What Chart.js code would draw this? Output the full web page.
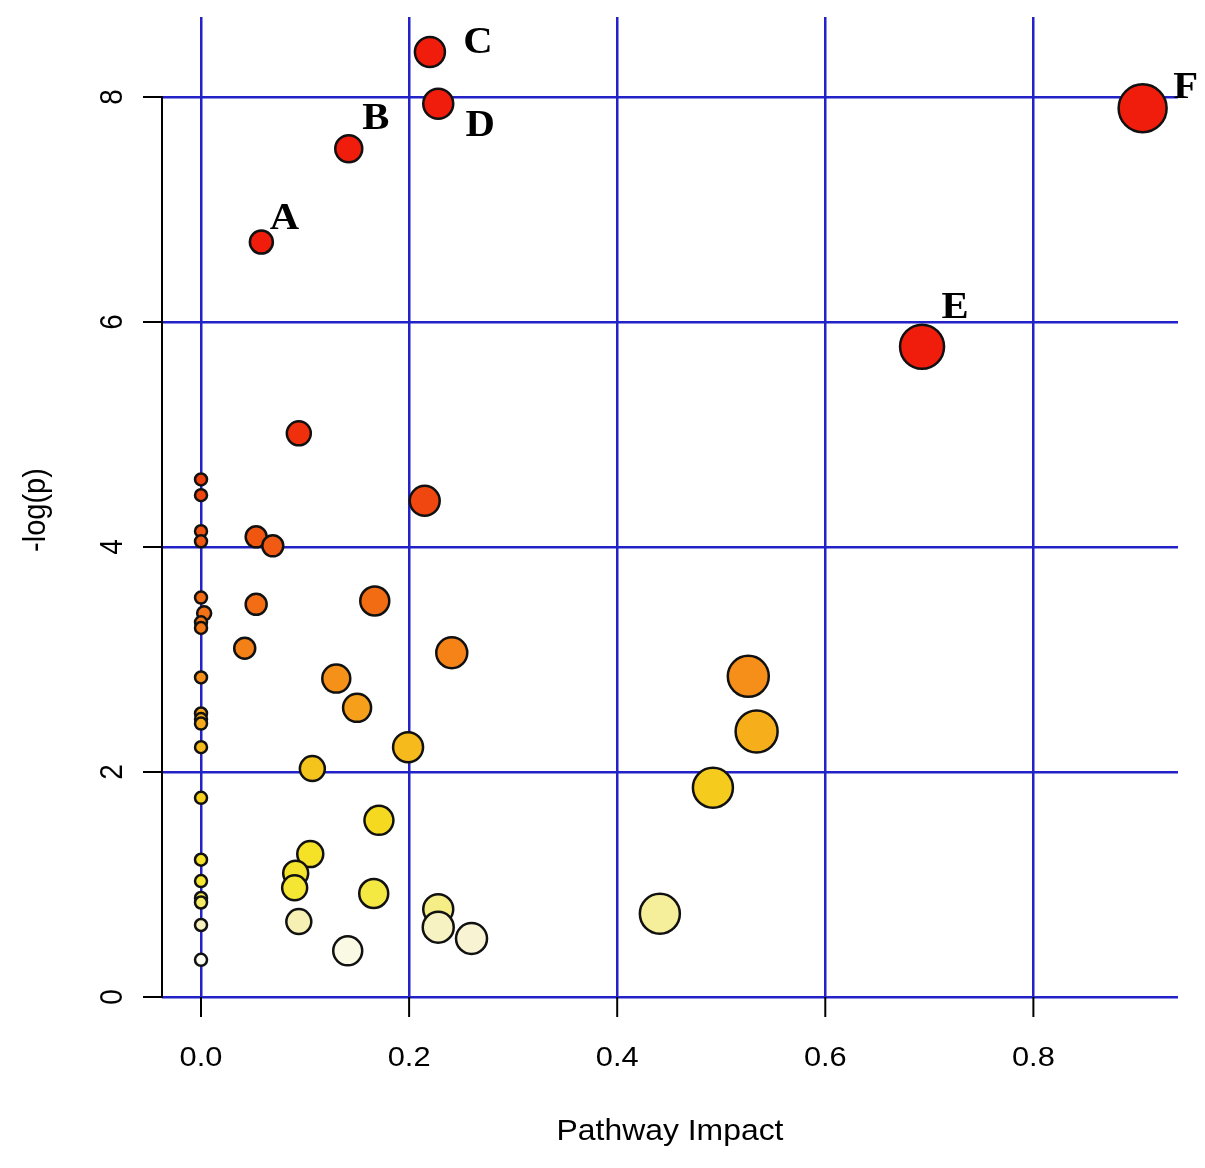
<!DOCTYPE html>
<html>
<head>
<meta charset="utf-8">
<script src="https://cdn.jsdelivr.net/npm/chart.js@4.4.0/dist/chart.umd.min.js"></script>
<style>
  html, body { margin: 0; padding: 0; background: #fff; }
  #wrap { width: 1205px; height: 1168px; }
</style>
</head>
<body>
<div id="wrap"><canvas id="impact" width="1205" height="1168"></canvas></div>
<script>
// pathway impact (x), -log(p) (y), bubble radius in px
const impact = [0.220, 0.228, 0.905, 0.142, 0.058, 0.693, 0.094, 0.000, 0.000, 0.215,
                0.000, 0.053, 0.000, 0.069, 0.000, 0.167, 0.053, 0.003, 0.000, 0.000,
                0.042, 0.241, 0.526, 0.000, 0.130, 0.150, 0.000, 0.000, 0.000, 0.534,
                0.199, 0.000, 0.107, 0.492, 0.000, 0.171, 0.105, 0.000, 0.091, 0.000,
                0.090, 0.166, 0.000, 0.000, 0.228, 0.441, 0.094, 0.000, 0.228, 0.260,
                0.141, 0.000];
const logP = [8.40, 7.94, 7.90, 7.54, 6.71, 5.78, 5.01, 4.60, 4.46, 4.41,
              4.14, 4.09, 4.05, 4.01, 3.55, 3.52, 3.49, 3.41, 3.33, 3.28,
              3.10, 3.06, 2.85, 2.84, 2.83, 2.57, 2.52, 2.47, 2.43, 2.36,
              2.22, 2.22, 2.03, 1.86, 1.77, 1.57, 1.27, 1.22, 1.10, 1.03,
              0.97, 0.92, 0.88, 0.84, 0.78, 0.74, 0.67, 0.64, 0.62, 0.52,
              0.41, 0.33];
const radius = [15, 15, 24, 13.5, 11.5, 22, 12, 6, 6, 15,
                6, 10.5, 6, 10.5, 6, 14.5, 10.5, 7, 6, 6,
                10.5, 15.5, 20.5, 6, 14, 14, 6, 6, 6, 21,
                15, 6, 12.5, 20, 6, 14.5, 13, 6, 12.5, 6,
                12.5, 14.5, 6, 6, 15, 20, 12.5, 6, 15.5, 15.5,
                14.5, 6];

// letter annotations and the point they belong to
const labelText = ['C', 'D', 'F', 'B', 'A', 'E'];
const labelPoint = [0, 1, 2, 3, 4, 5];

const xTicks = [0, 0.2, 0.4, 0.6, 0.8];
const xTickLabels = ['0.0', '0.2', '0.4', '0.6', '0.8'];
const yTicks = [0, 2, 4, 6, 8];
const yTickLabels = ['0', '2', '4', '6', '8'];

// styling
const labelOffset = [[48, 1], [42, 32], [43, -10], [27, -20], [23, -13], [33, -29]];
const heatStops = [
  [0.30, [253, 253, 244]], [0.50, [248, 245, 214]], [0.65, [246, 241, 188]],
  [0.75, [245, 238, 150]], [0.85, [244, 235, 98]], [0.95, [244, 230, 52]],
  [1.30, [245, 224, 36]], [1.60, [245, 216, 32]], [1.90, [245, 202, 28]],
  [2.20, [246, 187, 28]], [2.60, [245, 157, 26]], [3.00, [245, 134, 24]],
  [3.50, [242, 109, 20]], [4.00, [241, 90, 18]], [4.40, [240, 70, 15]],
  [5.00, [240, 48, 13]], [5.80, [240, 28, 12]]
];
const gridBlue = '#2222c8';
const sans = '"Liberation Sans", Arial, sans-serif';

function heatColor(v) {
  if (v <= heatStops[0][0]) return 'rgb(' + heatStops[0][1].join(',') + ')';
  for (let i = 1; i < heatStops.length; i++) {
    if (v <= heatStops[i][0]) {
      const [v0, c0] = heatStops[i - 1], [v1, c1] = heatStops[i];
      const t = (v - v0) / (v1 - v0);
      return 'rgb(' + c0.map((c, k) => Math.round(c + (c1[k] - c) * t)).join(',') + ')';
    }
  }
  return 'rgb(' + heatStops[heatStops.length - 1][1].join(',') + ')';
}

// the picture is a little wider than tall, so text gets a horizontal stretch
function stretchText(ctx, text, px, py, rotated) {
  ctx.save();
  ctx.translate(px, py);
  ctx.scale(1.1, 1);
  if (rotated) ctx.rotate(-Math.PI / 2);
  ctx.fillText(text, 0, 0);
  ctx.restore();
}

const rAxes = {
  id: 'rAxes',
  afterDraw(chart) {
    const { ctx, chartArea: a, scales: { x, y } } = chart;
    ctx.save();
    ctx.strokeStyle = '#000';
    ctx.fillStyle = '#000';
    ctx.lineWidth = 2;

    // left axis spans the tick range only
    ctx.beginPath();
    ctx.moveTo(a.left, y.getPixelForValue(yTicks[0]) + 1);
    ctx.lineTo(a.left, y.getPixelForValue(yTicks[yTicks.length - 1]) - 1);
    ctx.stroke();

    ctx.font = '28px ' + sans;
    ctx.textAlign = 'center';
    ctx.textBaseline = 'alphabetic';
    yTicks.forEach((v, i) => {
      const py = y.getPixelForValue(v);
      ctx.beginPath();
      ctx.moveTo(a.left - 19, py);
      ctx.lineTo(a.left, py);
      ctx.stroke();
      stretchText(ctx, yTickLabels[i], a.left - 40, py, true);
    });
    xTicks.forEach((v, i) => {
      const px = x.getPixelForValue(v);
      ctx.beginPath();
      ctx.moveTo(px, a.bottom);
      ctx.lineTo(px, a.bottom + 20);
      ctx.stroke();
      stretchText(ctx, xTickLabels[i], px, a.bottom + 69);
    });

    ctx.font = '29px ' + sans;
    stretchText(ctx, 'Pathway Impact', (a.left + a.right) / 2, a.bottom + 143);
    stretchText(ctx, '-log(p)', 45, (a.top + a.bottom) / 2 + 3, true);
    ctx.restore();
  },
  afterDatasetsDraw(chart) {
    const { ctx } = chart;
    const pts = chart.getDatasetMeta(0).data;
    ctx.save();
    ctx.fillStyle = '#000';
    ctx.font = 'bold 37px "Liberation Serif", "Times New Roman", serif';
    ctx.textAlign = 'center';
    ctx.textBaseline = 'alphabetic';
    labelText.forEach((t, i) => {
      const p = pts[labelPoint[i]];
      stretchText(ctx, t, p.x + labelOffset[i][0], p.y + labelOffset[i][1]);
    });
    ctx.restore();
  }
};

new Chart(document.getElementById('impact'), {
  type: 'bubble',
  data: {
    datasets: [{
      data: impact.map((v, i) => ({ x: v, y: logP[i], r: radius[i] })),
      backgroundColor: c => heatColor(c.raw ? c.raw.y : 0),
      borderColor: '#111',
      borderWidth: 2.5,
      hoverRadius: 0
    }]
  },
  options: {
    responsive: false,
    devicePixelRatio: 1,
    animation: false,
    layout: { autoPadding: false, padding: { top: 17, right: 27, left: 0, bottom: 0 } },
    plugins: { legend: { display: false }, tooltip: { enabled: false } },
    scales: {
      x: {
        type: 'linear',
        min: -0.0375,
        max: 0.939,
        afterBuildTicks: s => { s.ticks = xTicks.map(v => ({ value: v })); },
        afterFit: s => { s.height = 171; },
        ticks: { display: false },
        border: { display: false },
        grid: { color: gridBlue, lineWidth: 2.5, drawTicks: false }
      },
      y: {
        type: 'linear',
        min: 0,
        max: 8.711,
        afterBuildTicks: s => { s.ticks = yTicks.map(v => ({ value: v })); },
        afterFit: s => { s.width = 162; },
        ticks: { display: false },
        border: { display: false },
        grid: { color: gridBlue, lineWidth: 2.5, drawTicks: false }
      }
    }
  },
  plugins: [rAxes]
});
</script>
</body>
</html>
